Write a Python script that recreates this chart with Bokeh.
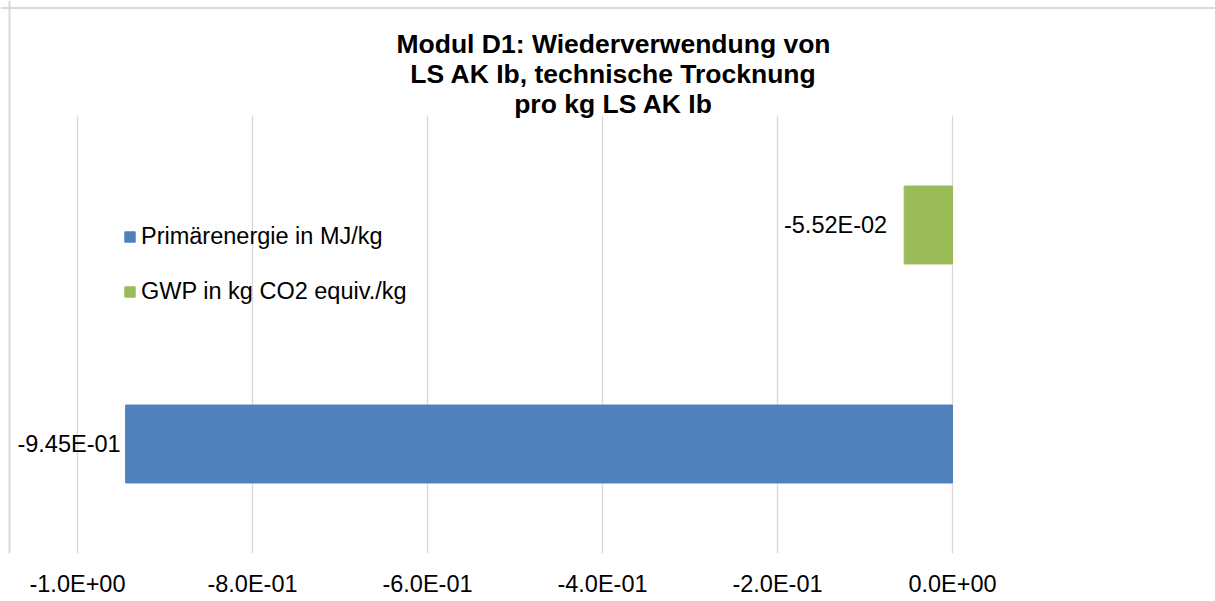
from bokeh.plotting import figure
from bokeh.models import Range1d, FixedTicker, Label, Legend, LegendItem, Span, ColumnDataSource
from bokeh.core.properties import value
from bokeh.embed import file_html
from bokeh.resources import INLINE

# ---- data ----
series_names = ["Primärenergie in MJ/kg", "GWP in kg CO2 equiv./kg"]
series_values = [-0.945, -0.0552]
series_labels = ["-9.45E-01", "-5.52E-02"]
series_colors = ["#4F81BD", "#9BBB59"]
tick_values = [-1.0, -0.8, -0.6, -0.4, -0.2, 0.0]
tick_labels = ["-1.0E+00", "-8.0E-01", "-6.0E-01", "-4.0E-01", "-2.0E-01", "0.0E+00"]
title_lines = ["Modul D1: Wiederverwendung von",
               "LS AK Ib, technische Trocknung",
               "pro kg LS AK Ib"]

FONT = "Liberation Sans"
n = len(series_names)
# Excel draws the first category at the bottom
ypos = list(range(n))
label_offsets = [-5, -17]

p = figure(width=1215, height=601, output_backend="svg", toolbar_location=None,
           x_range=Range1d(-1.088, 0.3006), y_range=Range1d(-0.5, 2.0251),
           min_border_left=0, min_border_right=0, min_border_top=0, min_border_bottom=48)
p.outline_line_color = None
p.background_fill_color = "white"
p.border_fill_color = "white"

# gridlines restricted to the category band
p.xgrid.visible = False
p.ygrid.visible = False
p.segment(x0=tick_values, x1=tick_values, y0=[-0.5] * len(tick_values),
          y1=[n - 0.5] * len(tick_values), line_color="#D9D9D9", line_width=1.3)

src = ColumnDataSource(dict(y=ypos, right=series_values, color=series_colors,
                            label=series_labels, off=label_offsets))
bars = p.hbar(y="y", left=0, right="right", height=0.356, color="color", source=src)

p.text(x="right", y="y", text="label", x_offset="off", source=src,
       text_align="right", text_baseline="middle", text_font=value(FONT),
       text_font_size="23.5px", text_color="#000000")

# legend
legend = Legend(items=[LegendItem(label=series_names[0], renderers=[bars], index=0),
                       LegendItem(label=series_names[1], renderers=[bars], index=1)],
                location=(123, 248), orientation="vertical")
legend.glyph_width = 13
legend.glyph_height = 13
legend.label_standoff = 5
legend.spacing = 28
legend.padding = 0
legend.margin = 0
legend.border_line_color = None
legend.background_fill_alpha = 0
legend.label_text_font = FONT
legend.label_text_font_size = "23.5px"
legend.label_text_color = "#000000"
p.add_layout(legend, "center")

# x axis
ax = p.xaxis[0]
ax.ticker = FixedTicker(ticks=tick_values)
ax.major_label_overrides = {t: l for t, l in zip(tick_values, tick_labels)}
ax.axis_line_color = None
ax.major_tick_line_color = None
ax.minor_tick_line_color = None
ax.major_tick_out = 0
ax.major_tick_in = 0
ax.minor_tick_out = 0
ax.minor_tick_in = 0
ax.major_label_standoff = 17
ax.major_label_text_font = FONT
ax.major_label_text_font_size = "23.5px"
ax.major_label_text_color = "#000000"
p.yaxis.visible = False

# title
for i, line in enumerate(title_lines):
    p.add_layout(Label(x=613, y=510 - 30 * i, x_units="screen", y_units="screen",
                       text=line, text_align="center", text_baseline="alphabetic",
                       text_font=FONT, text_font_style="bold", text_font_size="26.5px",
                       text_color="#000000"))

# chart border (top / left)
p.add_layout(Span(location=1.9909, dimension="width", line_color="#D9D9D9", line_width=2))
p.add_layout(Span(location=-1.0777, dimension="height", line_color="#D9D9D9", line_width=2))

open("out.html", "w").write(file_html(p, INLINE))
